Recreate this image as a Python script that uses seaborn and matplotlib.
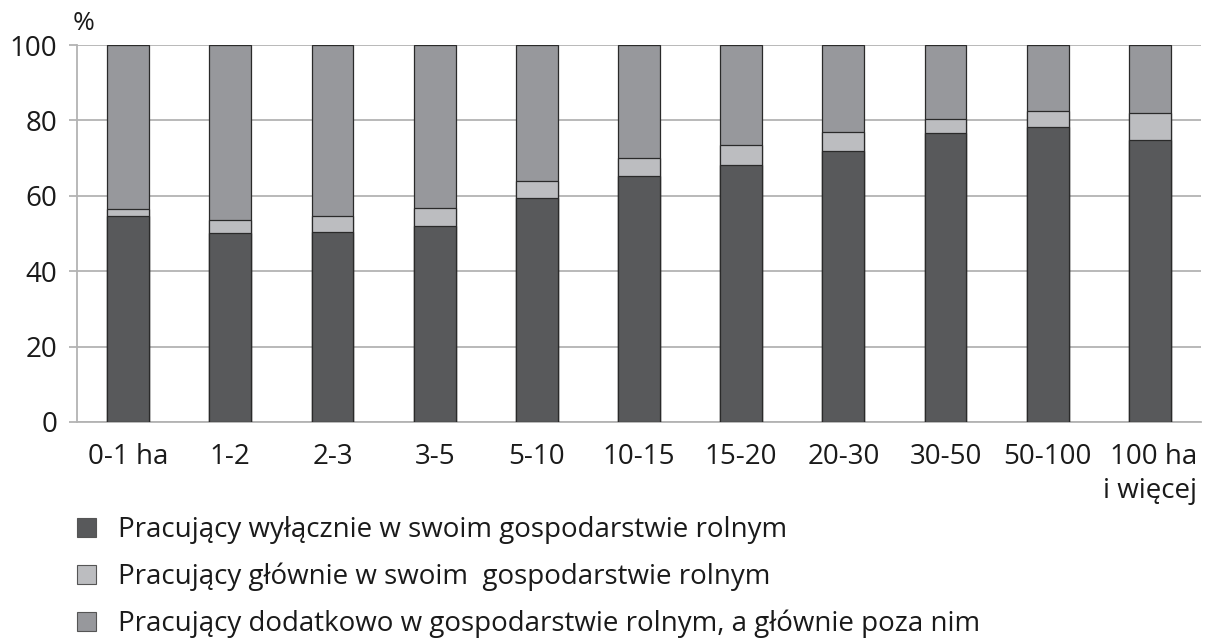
import numpy as np
import pandas as pd
import matplotlib
matplotlib.use("Agg")
import matplotlib.pyplot as plt
import seaborn as sns
from matplotlib.patches import Patch

# data (%)
categories = ["0-1 ha", "1-2", "2-3", "3-5", "5-10", "10-15", "15-20",
              "20-30", "30-50", "50-100", "100 ha\ni więcej"]
only_farm = [54.6, 50.1, 50.3, 52.1, 59.3, 65.2, 68.2, 71.9, 76.6, 78.3, 74.8]
mainly_farm = [2.0, 3.4, 4.3, 4.6, 4.7, 4.8, 5.4, 4.9, 3.9, 4.2, 7.1]
extra_farm = [round(100 - a - b, 1) for a, b in zip(only_farm, mainly_farm)]

labels = ["Pracujący wyłącznie w swoim gospodarstwie rolnym",
          "Pracujący głównie w swoim  gospodarstwie rolnym",
          "Pracujący dodatkowo w gospodarstwie rolnym, a głównie poza nim"]
colors = ["#58595b", "#bcbdc0", "#97989c"]

df = pd.DataFrame({"cat": categories, "only": only_farm,
                   "mainly": mainly_farm, "extra": extra_farm})
df["lvl2"] = df["only"] + df["mainly"]
df["lvl3"] = df["lvl2"] + df["extra"]

sns.set_style("white")
plt.rcParams["font.family"] = ["Open Sans", "DejaVu Sans"]

fig = plt.figure(figsize=(12.08, 6.41), dpi=100)
ax = fig.add_axes([77 / 1208, 1 - 422 / 641, 1124 / 1208, 377 / 641])

edge = "#2a2a2a"
# stacked via overlapping cumulative bars, tallest first
sns.barplot(data=df, x="cat", y="lvl3", color=colors[2], width=0.41,
            saturation=1, edgecolor=edge, linewidth=0.9, ax=ax, zorder=3)
sns.barplot(data=df, x="cat", y="lvl2", color=colors[1], width=0.41,
            saturation=1, edgecolor=edge, linewidth=0.9, ax=ax, zorder=3)
sns.barplot(data=df, x="cat", y="only", color=colors[0], width=0.41,
            saturation=1, edgecolor=edge, linewidth=0.9, ax=ax, zorder=3)

ax.set_xlim(-0.5, len(categories) - 0.5)
ax.set_ylim(0, 100)
ax.set_yticks(np.arange(0, 101, 20))
ax.yaxis.grid(True, color="#b3b3b3", linewidth=1.3, zorder=0)
ax.set_axisbelow(True)
ax.set_xlabel("")
ax.set_ylabel("")

for s in ["top", "right"]:
    ax.spines[s].set_visible(False)
for s in ["left", "bottom"]:
    ax.spines[s].set_color("#b3b3b3")
    ax.spines[s].set_linewidth(1.3)

ax.set_xticks(np.arange(-0.5, len(categories), 1.0), minor=True)
ax.tick_params(axis="x", which="major", length=0, pad=15, labelsize=20,
               colors="#1a1a1a")
ax.tick_params(axis="x", which="minor", length=6, width=1.3, color="#b3b3b3",
               direction="out")
ax.tick_params(axis="y", length=6, width=1.3, color="#b3b3b3", pad=8,
               labelsize=20, labelcolor="#1a1a1a", left=True)
for t in ax.get_xticklabels():
    t.set_multialignment("right")
    t.set_linespacing(1.3)

fig.text(84 / 1208, 1 - 23 / 641, "%", fontsize=19, ha="center", va="center",
         color="#1a1a1a")

handles = [Patch(facecolor=c, edgecolor="#555555", linewidth=0.8) for c in colors]
fig.legend(handles, labels, loc="upper left",
           bbox_to_anchor=(77 / 1208, 1 - 516 / 641), frameon=False,
           borderpad=0, borderaxespad=0,
           fontsize=20, handlelength=0.68, handleheight=0.68,
           handletextpad=0.8, labelspacing=0.67, labelcolor="#1a1a1a")

fig.savefig("out.png", dpi=100)
